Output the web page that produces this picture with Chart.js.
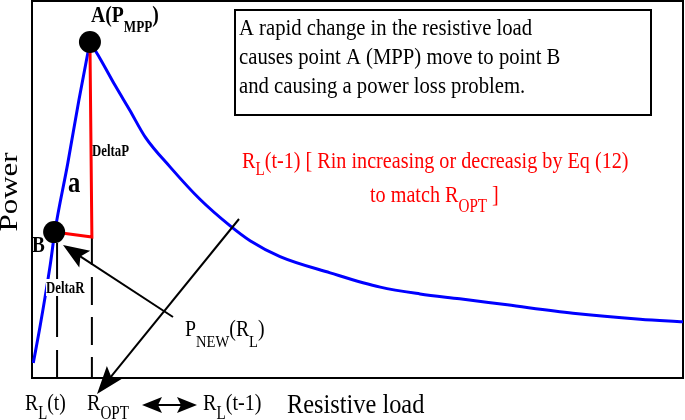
<!DOCTYPE html>
<html>
<head>
<meta charset="utf-8">
<script src="https://cdn.jsdelivr.net/npm/chart.js@4.4.1/dist/chart.umd.min.js"></script>
<style>
  html, body { margin: 0; padding: 0; background: #fff; }
  #wrap { width: 685px; height: 420px; }
</style>
</head>
<body>
<div id="wrap"><canvas id="chart" width="685" height="420"></canvas></div>
<script>
// resistive load (x) and power (y), both in 0..100 plot units
const riseLoad  = [0.2, 1.2, 2.8, 3.5, 5.5, 7.2, 8.9];
const risePower = [4.0, 13.3, 30.0, 38.7, 57.0, 73.7, 89.1];

const fallLoad  = [8.9, 10.4, 12.8, 15.0, 17.4, 21.2, 25.8, 30.4, 33.5, 38.1, 45.8, 53.5, 59.6, 65.7, 73.0, 83.1, 93.4, 100];
const fallPower = [89.1, 84.9, 77.5, 71.1, 63.9, 56.0, 47.4, 40.4, 36.4, 32.2, 27.9, 24.1, 22.3, 21.0, 19.4, 17.2, 15.6, 14.9];

// A (MPP) and B
const dotLoad  = [8.9, 3.4];
const dotPower = [89.1, 38.7];

// DeltaP / DeltaR red path: A -> corner -> B
const deltaLoad  = [8.9, 9.2, 3.4];
const deltaPower = [89.1, 37.4, 38.7];

// dashed drop lines
const dropRt   = [3.85, 3.85];
const dropRopt = [9.2, 9.2];
const dropRtPower   = [35.8, 0];
const dropRoptPower = [37.4, 0];

const pts = (xs, ys) => xs.map((x, i) => ({ x: x, y: ys[i] }));

const SERIF = '"Liberation Serif", "Times New Roman", serif';

// parts: [text, size, dy, bold]
function richText(ctx, x, y, parts, sx, align) {
  let w = 0;
  parts.forEach(p => {
    ctx.font = (p[3] ? 'bold ' : '') + p[1] + 'px ' + SERIF;
    w += ctx.measureText(p[0]).width;
  });
  ctx.save();
  ctx.translate(x, y);
  ctx.scale(sx || 1, 1);
  let cx = align === 'center' ? -w / 2 : 0;
  ctx.textBaseline = 'alphabetic';
  ctx.textAlign = 'left';
  parts.forEach(p => {
    ctx.font = (p[3] ? 'bold ' : '') + p[1] + 'px ' + SERIF;
    ctx.fillText(p[0], cx, p[2] || 0);
    cx += ctx.measureText(p[0]).width;
  });
  ctx.restore();
}

function arrowHead(ctx, x1, y1, x2, y2, len, half) {
  const a = Math.atan2(y2 - y1, x2 - x1);
  const c = Math.cos(a), s = Math.sin(a);
  ctx.beginPath();
  ctx.moveTo(x2, y2);
  ctx.lineTo(x2 - len * c + half * s, y2 - len * s - half * c);
  ctx.lineTo(x2 - len * 0.8 * c, y2 - len * 0.8 * s);
  ctx.lineTo(x2 - len * c - half * s, y2 - len * s + half * c);
  ctx.closePath();
  ctx.fill();
}

function arrow(ctx, x1, y1, x2, y2, len, half) {
  const a = Math.atan2(y2 - y1, x2 - x1);
  ctx.beginPath();
  ctx.moveTo(x1, y1);
  ctx.lineTo(x2 - len * 0.6 * Math.cos(a), y2 - len * 0.6 * Math.sin(a));
  ctx.stroke();
  arrowHead(ctx, x1, y1, x2, y2, len, half);
}

const diagram = {
  id: 'diagram',
  beforeDatasetsDraw(chart) {
    const ctx = chart.ctx;
    const a = chart.chartArea;
    ctx.save();
    ctx.strokeStyle = '#000';
    ctx.lineWidth = 2;
    ctx.strokeRect(a.left, a.top, a.right - a.left, a.bottom - a.top);
    ctx.restore();
  },
  afterDatasetsDraw(chart) {
    const ctx = chart.ctx;
    ctx.save();
    ctx.fillStyle = '#000';
    ctx.strokeStyle = '#000';

    // note box
    ctx.lineWidth = 2;
    ctx.fillStyle = '#fff';
    ctx.fillRect(235, 10, 416, 105);
    ctx.strokeRect(235, 10, 416, 105);
    ctx.fillStyle = '#000';
    richText(ctx, 239, 35, [['A rapid change in the resistive load', 23]], 0.9);
    richText(ctx, 239, 64, [['causes point A (MPP) move to point B', 23]], 0.9);
    richText(ctx, 239, 93, [['and causing a power loss problem.', 23]], 0.9);

    // point labels
    richText(ctx, 91, 22, [['A(P', 24, 0, true], ['MPP', 16, 10, true], [')', 24, 0, true]], 0.82);
    richText(ctx, 92, 156, [['DeltaP', 16, 0, true]], 0.8);
    richText(ctx, 68, 192, [['a', 30, 0, true]], 0.82);
    richText(ctx, 32, 252, [['B', 24, 0, true]], 0.8);
    ctx.fillStyle = '#fff';
    ctx.fillRect(46, 279, 42, 17);
    ctx.fillStyle = '#000';
    richText(ctx, 46, 293, [['DeltaR', 16, 0, true]], 0.8);

    // red note
    ctx.fillStyle = '#ff0000';
    richText(ctx, 242, 168, [['R', 24], ['L', 18, 7], ['(t-1) [ Rin increasing or decreasig by Eq (12)', 24]], 0.84);
    richText(ctx, 370, 202, [['to match R', 24], ['OPT', 18, 10], [' ]', 24]], 0.84);
    ctx.fillStyle = '#000';

    // curve label
    richText(ctx, 185, 336, [['P', 23], ['NEW', 17, 11], ['(R', 23], ['L', 17, 11], [')', 23]], 0.86);

    // arrows
    ctx.lineWidth = 2;
    arrow(ctx, 173, 317, 63, 245, 26, 10);
    arrow(ctx, 239, 219, 97, 394, 28, 10);
    ctx.beginPath();
    ctx.moveTo(156, 405);
    ctx.lineTo(183, 405);
    ctx.stroke();
    arrowHead(ctx, 170, 405, 142, 405, 20, 8);
    arrowHead(ctx, 170, 405, 197, 405, 20, 8);

    // axis texts
    richText(ctx, 25, 410, [['R', 24], ['L', 18, 9], ['(t)', 24]], 0.82);
    richText(ctx, 87, 410, [['R', 24], ['OPT', 18, 9]], 0.84);
    richText(ctx, 203, 410, [['R', 24], ['L', 18, 9], ['(t-1)', 24]], 0.84);
    richText(ctx, 287, 413, [['Resistive load', 28]], 0.87);

    ctx.save();
    ctx.translate(17, 192);
    ctx.rotate(-Math.PI / 2);
    ctx.scale(1, 0.8);
    ctx.font = '31px ' + SERIF;
    ctx.textAlign = 'center';
    ctx.fillText('Power', 0, 0);
    ctx.restore();

    ctx.restore();
  }
};

new Chart(document.getElementById('chart'), {
  type: 'line',
  data: {
    datasets: [
      { data: pts(dotLoad, dotPower), showLine: false, pointRadius: 11, pointBackgroundColor: '#000', pointBorderColor: '#000', pointBorderWidth: 0 },
      { data: pts(deltaLoad, deltaPower), borderColor: '#ff0000', borderWidth: 3, pointRadius: 0, tension: 0 },
      { data: pts(riseLoad, risePower), borderColor: '#0000ff', borderWidth: 3, pointRadius: 0, cubicInterpolationMode: 'monotone' },
      { data: pts(fallLoad, fallPower), borderColor: '#0000ff', borderWidth: 3, pointRadius: 0, cubicInterpolationMode: 'monotone' },
      { data: pts(dropRt, dropRtPower), borderColor: '#000', borderWidth: 2, pointRadius: 0, borderDash: [94, 13] },
      { data: pts(dropRopt, dropRoptPower), borderColor: '#000', borderWidth: 2, pointRadius: 0, borderDash: [28, 12] }
    ]
  },
  options: {
    responsive: false,
    animation: false,
    devicePixelRatio: 1,
    events: [],
    layout: { autoPadding: false, padding: { left: 32, top: 1, right: 2, bottom: 42 } },
    plugins: { legend: { display: false }, tooltip: { enabled: false } },
    scales: {
      x: { type: 'linear', min: 0, max: 100, display: false },
      y: { type: 'linear', min: 0, max: 100, display: false }
    }
  },
  plugins: [diagram]
});
</script>
</body>
</html>
